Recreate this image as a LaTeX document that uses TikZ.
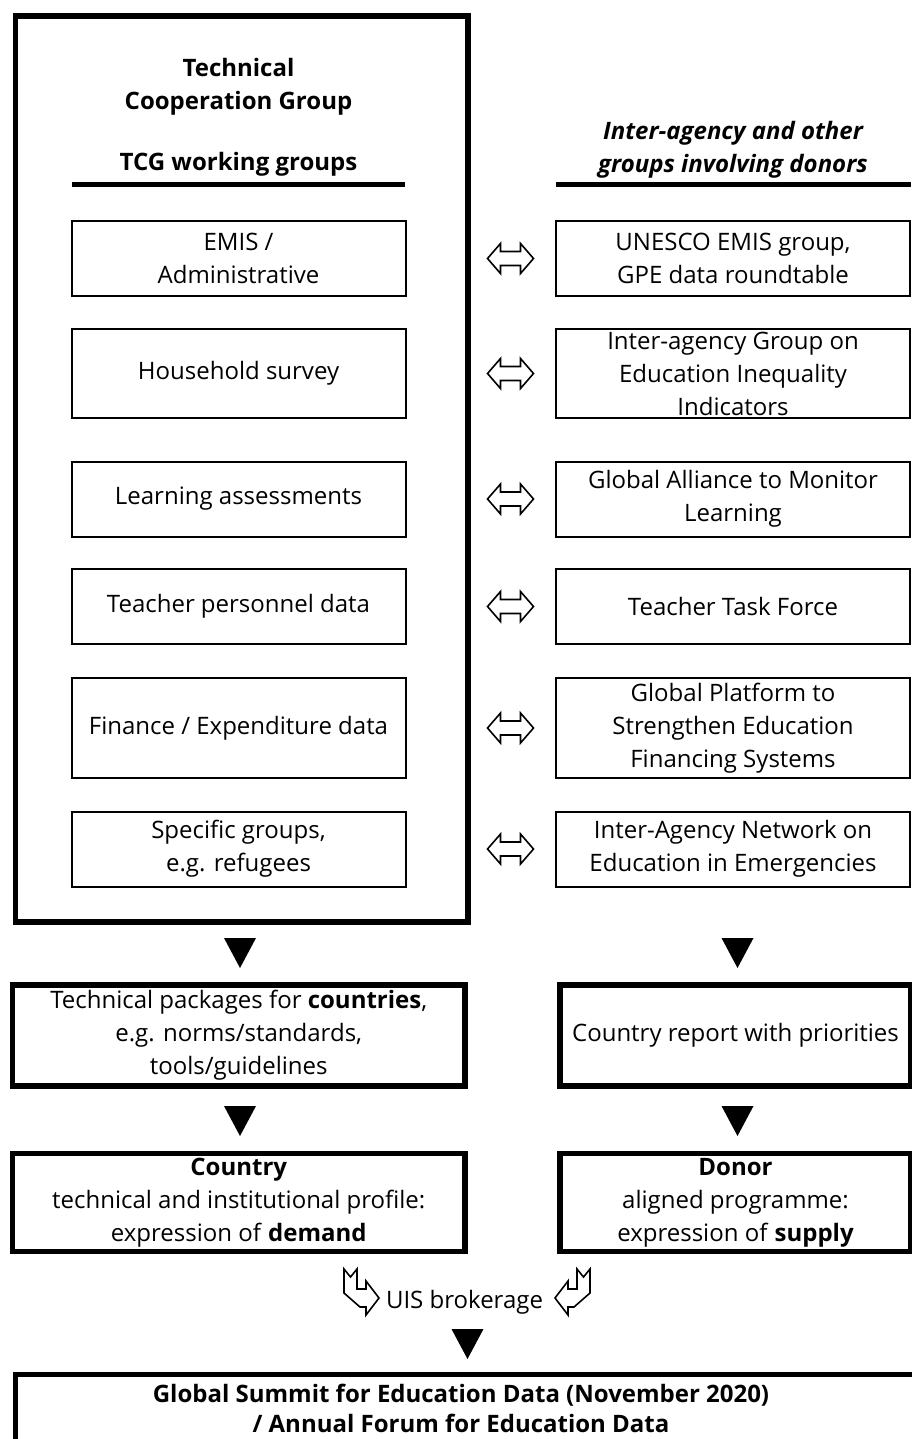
\documentclass[tikz,border=0pt]{standalone}
\usepackage{fontspec}
\setmainfont{Open Sans}
\usetikzlibrary{positioning,calc}

\tikzset{
  groupbox/.style={draw, line width=2pt, align=center, inner sep=0pt},
  stagebox/.style={draw, line width=5.5pt, align=center, inner sep=0pt},
  headtext/.style={font=\fontsize{24}{33}\selectfont\bfseries, align=center},
  headrule/.style={line width=5pt},
  linkarrow/.pic={
    \draw[line width=1.6pt, line join=miter]
      (-23,0) -- (-10,-15) -- (-10,-7) -- (10,-7) -- (10,-15) -- (23,0)
      -- (10,15) -- (10,7) -- (-10,7) -- (-10,15) -- cycle;},
  downtri/.pic={\fill (-16,-15) -- (16,-15) -- (0,15) -- cycle;},
  brokerarrow/.pic={
    \draw[line width=1.6pt, line join=miter]
      (0,0) -- (6.5,8) -- (13,0) -- (13,20) -- (22,20) -- (22,12) -- (35,29)
      -- (22,46) -- (22,38) -- (16,38) -- (0,24) -- cycle;}
}

\begin{document}
\begin{tikzpicture}[x=1pt, y=-1pt,
  every node/.style={font=\fontsize{24}{33}\selectfont}]
\useasboundingbox (0,0) rectangle (911,1439);

% TCG frame
\node[stagebox, anchor=north west, minimum width=452.5, minimum height=905.5] (tcg) at (12.5,13.5) {};
\node[headtext] (tcgtitle) at (238.5,87) {Technical\\Cooperation Group};
\node[headtext] (tcgwg) at (238.5,164) {TCG working groups};
\draw[headrule] (72,184.5) -- (405,184.5);

% donor side heading
\node[headtext, font=\fontsize{24}{33}\selectfont\bfseries\itshape] (donorhead) at (733,150) {Inter-agency and other\\groups involving donors};
\draw[headrule] (556,184.5) -- (911,184.5);

% working groups
\node[groupbox, minimum width=334, minimum height=75] (l1) at (238.5,258.5) {EMIS /\\Administrative};
\node[groupbox, minimum width=334, minimum height=89] (l2) at (238.5,373.5) {Household survey};
\node[groupbox, minimum width=334, minimum height=75] (l3) at (238.5,499) {Learning assessments};
\node[groupbox, minimum width=334, minimum height=75] (l4) at (238.5,606.5) {Teacher personnel data};
\node[groupbox, minimum width=334, minimum height=100] (l5) at (238.5,728) {Finance / Expenditure data};
\node[groupbox, minimum width=334, minimum height=75] (l6) at (238.5,849) {Specific groups,\\e.g. refugees};

% donor groups
\node[groupbox, minimum width=354, minimum height=75] (r1) at (733,258.5) {UNESCO EMIS group,\\GPE data roundtable};
\node[groupbox, minimum width=354, minimum height=89] (r2) at (733,373.5) {Inter-agency Group on\\Education Inequality\\Indicators};
\node[groupbox, minimum width=354, minimum height=75] (r3) at (733,499) {Global Alliance to Monitor\\Learning};
\node[groupbox, minimum width=354, minimum height=75] (r4) at (733,606.5) {Teacher Task Force};
\node[groupbox, minimum width=354, minimum height=100] (r5) at (733,728) {Global Platform to\\Strengthen Education\\Financing Systems};
\node[groupbox, minimum width=354, minimum height=75] (r6) at (733,849) {Inter-Agency Network on\\Education in Emergencies};

\foreach \y [count=\i] in {258.5,373.5,499,606.5,728,849}
  \pic (lnk\i) at (510.5,\y) {linkarrow};

% outputs
\pic (t1) at (240,953) {downtri};
\pic (t2) at (737.5,953) {downtri};
\node[stagebox, minimum width=452.5, minimum height=101] (pkg) at (238.75,1035.5) {Technical packages for \textbf{countries},\\e.g. norms/standards,\\tools/guidelines};
\node[stagebox, minimum width=351, minimum height=101] (report) at (735.5,1035.5) {Country report with priorities};

\pic (t3) at (240,1121) {downtri};
\pic (t4) at (737.5,1121) {downtri};
\node[stagebox, minimum width=452.5, minimum height=98] (country) at (238.75,1202.5) {\textbf{Country}\\technical and institutional profile:\\expression of \textbf{demand}};
\node[stagebox, minimum width=351, minimum height=98] (donor) at (735.5,1202.5) {\textbf{Donor}\\aligned programme:\\expression of \textbf{supply}};

% brokerage
\pic (bl) at (344,1269) {brokerarrow};
\pic[xscale=-1] (br) at (590,1269) {brokerarrow};
\node (uis) at (464.5,1302) {UIS brokerage};
\pic (t5) at (467.5,1344) {downtri};

% summit
\node[stagebox, anchor=north west, minimum width=920, minimum height=120] (summitbox) at (12.5,1371.5) {};
\node[headtext, font=\fontsize{24}{30}\selectfont\bfseries] (summit) at (461,1408) {Global Summit for Education Data (November 2020)\\/ Annual Forum for Education Data};
\end{tikzpicture}
\end{document}
